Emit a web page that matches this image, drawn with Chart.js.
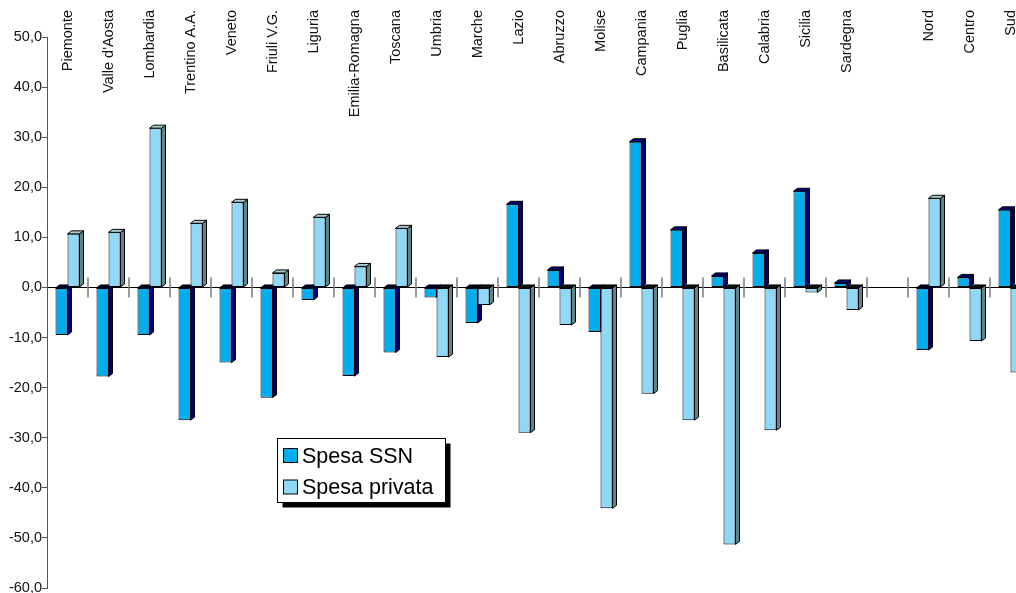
<!DOCTYPE html>
<html>
<head>
<meta charset="utf-8">
<script src="https://cdn.jsdelivr.net/npm/chart.js@4/dist/chart.umd.min.js"></script>
<style>
  html, body { margin: 0; padding: 0; background: #fff; overflow: hidden; }
  #wrap { width: 1016px; height: 593px; overflow: hidden; position: relative; }
  canvas { display: block; }
</style>
</head>
<body>
<div id="wrap"><canvas id="c" width="1045" height="605"></canvas></div>
<script>
// Regions, then an empty slot, then the macro-areas
const regions = [
  'Piemonte', "Valle d'Aosta", 'Lombardia', 'Trentino A.A.', 'Veneto', 'Friuli V.G.',
  'Liguria', 'Emilia-Romagna', 'Toscana', 'Umbria', 'Marche', 'Lazio', 'Abruzzo',
  'Molise', 'Campania', 'Puglia', 'Basilicata', 'Calabria', 'Sicilia', 'Sardegna',
  '', 'Nord', 'Centro', 'Sud'
];

const spesaSSN = [
  -9.5, -17.8, -9.5, -26.5, -15.0, -22.0, -2.5, -17.7, -13.0, -2.0, -7.1, 16.6,
  3.5, -8.9, 29.1, 11.5, 2.3, 6.9, 19.2, 0.9, null, -12.5, 2.0, 15.5
];

const spesaPrivata = [
  10.7, 11.0, 31.8, 12.8, 17.0, 2.9, 14.0, 4.2, 11.8, -13.9, -3.5, -29.0,
  -7.5, -44.1, -21.2, -26.5, -51.3, -28.5, -1.0, -4.5, null, 17.8, -10.7, -17.0
];

const seriesNames = ['Spesa SSN', 'Spesa privata'];

const yMin = -60;
const yMax = 50;
const yStep = 10;

// Face colours: front, side, top (positive), top (negative)
const palette = [
  { front: '#00AEEF', side: '#000070', top: '#000080', topNeg: '#00002a' },
  { front: '#8FD8F6', side: '#5E8688', top: '#A9CCD3', topNeg: '#101414' }
];

const DX = 4, DY = 3;

Chart.defaults.font.family = "'Liberation Sans', Arial, sans-serif";
Chart.defaults.color = '#111';

function faces(ctx, el, colors) {
  const left = el.x - el.width / 2;
  const right = el.x + el.width / 2;
  const top = Math.min(el.y, el.base);
  const bottom = Math.max(el.y, el.base);
  const negative = el.y > el.base;
  ctx.lineWidth = 1;
  ctx.strokeStyle = '#000';
  // side face
  ctx.beginPath();
  ctx.moveTo(right, top);
  ctx.lineTo(right + DX, top - DY);
  ctx.lineTo(right + DX, bottom - DY);
  ctx.lineTo(right, bottom);
  ctx.closePath();
  ctx.fillStyle = colors.side;
  ctx.fill();
  ctx.stroke();
  // top face
  ctx.beginPath();
  ctx.moveTo(left, top);
  ctx.lineTo(left + DX, top - DY);
  ctx.lineTo(right + DX, top - DY);
  ctx.lineTo(right, top);
  ctx.closePath();
  ctx.fillStyle = negative ? colors.topNeg : colors.top;
  ctx.fill();
  ctx.stroke();
}

const depthPlugin = {
  id: 'depth3d',
  beforeDatasetsDraw(chart) {
    const ctx = chart.ctx;
    const xs = chart.scales.x;
    const ys = chart.scales.y;
    const zero = ys.getPixelForValue(0);
    ctx.save();
    // category separators along the zero line
    ctx.strokeStyle = '#7a7a7a';
    ctx.lineWidth = 1.5;
    for (let i = 1; i < regions.length; i++) {
      const x = (xs.getPixelForValue(i - 1) + xs.getPixelForValue(i)) / 2;
      ctx.beginPath();
      ctx.moveTo(x, zero - 10);
      ctx.lineTo(x, zero + 10);
      ctx.stroke();
    }
    // side and top faces of each bar
    [0, 1].forEach(di => {
      const meta = chart.getDatasetMeta(di);
      const data = chart.data.datasets[di].data;
      meta.data.forEach((el, i) => {
        if (data[i] === null || data[i] === undefined) return;
        faces(ctx, el, palette[di]);
      });
    });
    ctx.restore();
  },
  afterDraw(chart) {
    const ctx = chart.ctx;
    const xs = chart.scales.x;
    ctx.save();
    // category names, rotated, hanging from the top
    ctx.font = "14.5px 'Liberation Sans', Arial, sans-serif";
    ctx.fillStyle = '#111';
    ctx.textAlign = 'right';
    ctx.textBaseline = 'middle';
    regions.forEach((name, i) => {
      if (!name) return;
      const x = xs.getPixelForValue(i);
      ctx.save();
      ctx.translate(x, 10);
      ctx.rotate(-Math.PI / 2);
      ctx.fillText(name, 0, 0);
      ctx.restore();
    });

    // legend box with drop shadow
    const bx = 277.5, by = 438.5, bw = 168, bh = 64;
    ctx.fillStyle = '#000';
    ctx.fillRect(bx + 5, by + 5, bw, bh);
    ctx.fillStyle = '#fff';
    ctx.fillRect(bx, by, bw, bh);
    ctx.strokeStyle = '#000';
    ctx.lineWidth = 1;
    ctx.strokeRect(bx, by, bw, bh);
    ctx.font = "21.5px 'Liberation Sans', Arial, sans-serif";
    ctx.textAlign = 'left';
    ctx.textBaseline = 'alphabetic';
    chart.data.datasets.forEach((ds, i) => {
      const sy = 448.5 + i * 31.5;
      ctx.fillStyle = ds.backgroundColor;
      ctx.fillRect(283.5, sy, 14, 14);
      ctx.strokeRect(283.5, sy, 14, 14);
      ctx.fillStyle = '#000';
      ctx.fillText(ds.label, 302, sy + 14);
    });
    ctx.restore();
  }
};

new Chart(document.getElementById('c'), {
  type: 'bar',
  data: {
    labels: regions,
    datasets: [
      {
        label: seriesNames[0],
        data: spesaSSN,
        backgroundColor: palette[0].front,
        borderColor: '#000',
        borderWidth: 1,
        borderSkipped: false
      },
      {
        label: seriesNames[1],
        data: spesaPrivata,
        backgroundColor: palette[1].front,
        borderColor: '#000',
        borderWidth: 1,
        borderSkipped: false
      }
    ]
  },
  options: {
    responsive: false,
    animation: false,
    devicePixelRatio: 1,
    layout: { padding: { top: 37, left: 0, right: 14, bottom: 17 } },
    datasets: { bar: { categoryPercentage: 24 / 41, barPercentage: 1 } },
    plugins: { legend: { display: false }, tooltip: { enabled: false } },
    scales: {
      x: { type: 'category', display: false, offset: true, ticks: { autoSkip: false } },
      y: {
        min: yMin,
        max: yMax,
        afterFit(scale) { scale.width = 47; },
        ticks: {
          stepSize: yStep,
          padding: 0,
          color: '#111',
          font: { size: 14.5 },
          callback: v => v.toFixed(1).replace('.', ',')
        },
        grid: {
          drawOnChartArea: true,
          color: c => (c.tick && c.tick.value === 0) ? '#000' : 'rgba(0,0,0,0)',
          tickColor: '#555',
          tickLength: 5,
          lineWidth: 1
        },
        border: { display: true, color: '#555', width: 1 }
      }
    }
  },
  plugins: [depthPlugin]
});
</script>
</body>
</html>
